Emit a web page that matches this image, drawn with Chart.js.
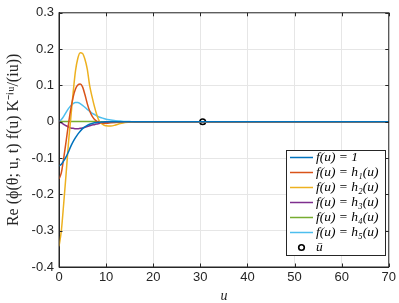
<!DOCTYPE html>
<html>
<head>
<meta charset="utf-8">
<script src="https://cdn.jsdelivr.net/npm/chart.js@4/dist/chart.umd.min.js"></script>
<style>
  html, body { margin: 0; padding: 0; background: #fff; }
  #wrap { width: 399px; height: 303px; position: relative; }
</style>
</head>
<body>
<div id="wrap"><canvas id="grafik"></canvas></div>
<script>
// sumbu u (nilai yang dibaca dari gambar)
const uGrid = [0, 0.5, 1, 1.5, 2, 2.5, 3, 3.5, 4, 4.5, 5, 5.5, 6, 6.5, 7, 7.5, 8, 8.5, 9, 9.5, 10, 11, 12, 13, 14, 15, 16, 18, 20, 70];

const fSatu = [-0.122, -0.117, -0.108, -0.097, -0.083, -0.068, -0.055, -0.044, -0.034, -0.026, -0.019, -0.014, -0.010, -0.007, -0.005, -0.003, -0.002, -0.0015, -0.001, -0.0005, 0, 0, 0, 0, 0, 0, 0, 0, 0, 0];
const fH1 = [-0.158, -0.14, -0.1, -0.055, -0.007, 0.035, 0.068, 0.09, 0.101, 0.104, 0.096, 0.075, 0.05, 0.03, 0.016, 0.007, 0.002, -0.001, -0.003, -0.004, -0.004, -0.003, -0.002, -0.001, 0, 0, 0, 0, 0, 0];
const fH2 = [-0.343, -0.30, -0.225, -0.145, -0.06, 0.01, 0.08, 0.14, 0.175, 0.19, 0.188, 0.172, 0.145, 0.1, 0.07, 0.043, 0.02, 0.003, -0.005, -0.009, -0.011, -0.012, -0.009, -0.005, -0.002, -0.001, 0, 0, 0, 0];
const fH3 = [0, -0.003, -0.007, -0.011, -0.014, -0.017, -0.018, -0.019, -0.019, -0.018, -0.017, -0.015, -0.013, -0.011, -0.009, -0.008, -0.006, -0.005, -0.004, -0.003, -0.002, -0.001, -0.0005, 0, 0, 0, 0, 0, 0, 0];
const fH4 = [0, 0.0005, 0.001, 0.001, 0.001, 0.001, 0.001, 0.001, 0.001, 0.001, 0.001, 0.001, 0.001, 0.0005, 0.0005, 0.0005, 0, 0, 0, 0, 0, 0, 0, 0, 0, 0, 0, 0, 0, 0];
const fH5 = [0, 0.006, 0.015, 0.026, 0.036, 0.044, 0.05, 0.053, 0.053, 0.05, 0.045, 0.04, 0.034, 0.029, 0.024, 0.02, 0.016, 0.013, 0.011, 0.009, 0.007, 0.005, 0.003, 0.002, 0.001, 0.0005, 0, 0, 0, 0];

// titik u-bar
const uBar = [30.5];
const uBarNilai = [0];

const labelSeri = ['f(u) = 1', 'f(u) = h\u2081(u)', 'f(u) = h\u2082(u)', 'f(u) = h\u2083(u)', 'f(u) = h\u2084(u)', 'f(u) = h\u2085(u)', '\u016B'];
const xTicks = [0, 10, 20, 30, 40, 50, 60, 70];
const yTicks = [-0.4, -0.3, -0.2, -0.1, 0, 0.1, 0.2, 0.3];

const warna = ['#0072BD', '#D95319', '#EDB120', '#7E2F8E', '#77AC30', '#4DBEEE'];
const seri = [fSatu, fH1, fH2, fH3, fH4, fH5];

const datasets = seri.map((s, i) => ({
  label: labelSeri[i],
  data: uGrid.map((u, j) => ({ x: u, y: s[j] })),
  borderColor: warna[i],
  borderWidth: 1.5,
  pointRadius: 0,
  fill: false,
  cubicInterpolationMode: 'monotone'
}));
datasets.push({
  label: labelSeri[6],
  type: 'scatter',
  data: uBar.map((u, j) => ({ x: u, y: uBarNilai[j] })),
  borderColor: '#000',
  backgroundColor: 'rgba(0,0,0,0)',
  borderWidth: 1.6,
  pointRadius: 2.8,
  showLine: false
});

const warnaSumbu = '#262626';

// kotak, tick ke dalam, dan legenda gaya MATLAB
const gayaMatlab = {
  id: 'gayaMatlab',
  afterDraw(chart) {
    const { ctx, chartArea: a, scales } = chart;
    ctx.save();
    ctx.strokeStyle = warnaSumbu;
    ctx.lineWidth = 1;
    ctx.strokeRect(a.left, a.top, a.right - a.left, a.bottom - a.top);
    const tl = 3.5;
    ctx.beginPath();
    xTicks.forEach(t => {
      const px = Math.round(scales.x.getPixelForValue(t)) + 0.5;
      ctx.moveTo(px, a.bottom); ctx.lineTo(px, a.bottom - tl);
      ctx.moveTo(px, a.top); ctx.lineTo(px, a.top + tl);
    });
    yTicks.forEach(t => {
      const py = Math.round(scales.y.getPixelForValue(t)) + 0.5;
      ctx.moveTo(a.left, py); ctx.lineTo(a.left + tl, py);
      ctx.moveTo(a.right, py); ctx.lineTo(a.right - tl, py);
    });
    ctx.stroke();

    // legenda
    const lx = 286, ly = 150, lw = 99, lh = 105, baris = 15;
    ctx.fillStyle = '#fff';
    ctx.fillRect(lx, ly, lw, lh);
    ctx.strokeStyle = warnaSumbu;
    ctx.strokeRect(lx + 0.5, ly + 0.5, lw, lh);
    ctx.font = 'italic 13.5px "Liberation Serif"';
    ctx.textBaseline = 'middle';
    ctx.textAlign = 'left';
    chart.data.datasets.forEach((ds, i) => {
      const y = ly + 7.5 + i * baris;
      if (i < 6) {
        ctx.strokeStyle = ds.borderColor;
        ctx.lineWidth = 1.5;
        ctx.beginPath();
        ctx.moveTo(lx + 4, y); ctx.lineTo(lx + 27, y);
        ctx.stroke();
      } else {
        ctx.strokeStyle = '#000';
        ctx.lineWidth = 1.6;
        ctx.beginPath();
        ctx.arc(lx + 15.5, y, 2.8, 0, Math.PI * 2);
        ctx.stroke();
      }
      ctx.fillStyle = '#000';
      ctx.fillText(ds.label, lx + 30, y);
    });
    ctx.restore();
  }
};

new Chart(document.getElementById('grafik'), {
  type: 'line',
  data: { datasets },
  options: {
    responsive: true,
    maintainAspectRatio: false,
    devicePixelRatio: 1,
    animation: false,
    layout: { padding: { top: 7, right: 9, left: 0, bottom: 0 } },
    plugins: { legend: { display: false }, tooltip: { enabled: false } },
    scales: {
      x: {
        type: 'linear', min: 0, max: 70,
        afterFit: s => { s.height = 36; },
        afterBuildTicks: s => { s.ticks = xTicks.map(v => ({ value: v })); },
        ticks: { color: warnaSumbu, font: { family: 'Liberation Sans', size: 13 }, padding: 3, maxRotation: 0 },
        grid: { color: '#e6e6e6', drawTicks: false },
        border: { color: warnaSumbu },
        title: { display: true, text: 'u', color: warnaSumbu, padding: { top: 0, bottom: 0 },
                 font: { family: 'Liberation Serif', style: 'italic', size: 14, lineHeight: 1 } }
      },
      y: {
        type: 'linear', min: -0.4, max: 0.3,
        afterFit: s => { s.width = 59; },
        afterBuildTicks: s => { s.ticks = yTicks.map(v => ({ value: v })); },
        ticks: {
          color: warnaSumbu, font: { family: 'Liberation Sans', size: 13 }, padding: 5,
          callback: v => (Math.abs(v) < 1e-9 ? '0' : v.toFixed(1))
        },
        grid: { color: '#e6e6e6', drawTicks: false },
        border: { color: warnaSumbu },
        title: { display: true, text: 'Re (\u03D5(\u03B8; u, t) f(u) K\u207B\u2071\u1D58/(iu))', color: warnaSumbu,
                 padding: { top: 6, bottom: 0 },
                 font: { family: 'Liberation Serif', size: 16, lineHeight: 1 } }
      }
    }
  },
  plugins: [gayaMatlab]
});
</script>
</body>
</html>
